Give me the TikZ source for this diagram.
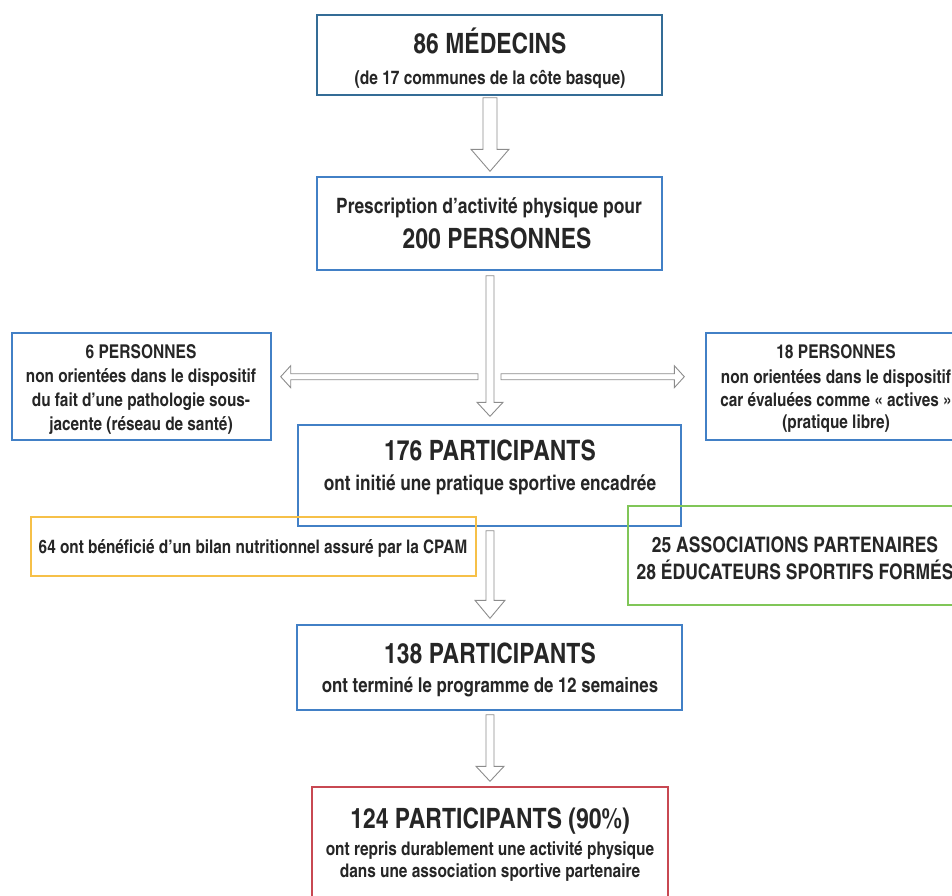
\documentclass[tikz,border=0pt]{standalone}
\usepackage{fontspec}
\setmainfont{texgyreheroscn}[Extension=.otf, UprightFont=*-regular, BoldFont=*-bold, ItalicFont=*-italic, BoldItalicFont=*-bolditalic]
\usetikzlibrary{calc}
\definecolor{boxblue}{RGB}{66,128,198}
\definecolor{boxteal}{RGB}{52,108,150}
\definecolor{boxyellow}{RGB}{246,192,72}
\definecolor{boxgreen}{RGB}{128,198,88}
\definecolor{boxred}{RGB}{200,72,82}
\definecolor{txtcol}{RGB}{38,38,38}
\definecolor{arrowgray}{RGB}{140,140,140}
\newcommand\fTitle{\fontsize{28}{30}\selectfont\bfseries}
\newcommand\fsz[1]{\fontsize{#1}{#1}\selectfont\bfseries}
\tikzset{
  box/.style={draw, line width=1.4pt, inner sep=0pt},
  ln/.style={anchor=base, inner sep=0pt, text=txtcol},
  hollow/.style={draw=arrowgray, line width=0.9pt, line join=miter, fill=white}
}
\begin{document}
\begin{tikzpicture}[x=1pt,y=-1pt]
\useasboundingbox (0,0) rectangle (952,895);
\clip (0,0) rectangle (952,895);
% boxes
\node[box, draw=boxteal, minimum width=345pt, minimum height=80pt] (b1) at (489.5,55) {};
\node[box, draw=boxblue, minimum width=345pt, minimum height=93pt] (b2) at (489.5,223.5) {};
\node[box, draw=boxblue, minimum width=259pt, minimum height=107pt] (bL) at (141.5,386.5) {};
\node[box, draw=boxblue, minimum width=260pt, minimum height=107pt] (bR) at (836,386.5) {};
\node[box, draw=boxblue, minimum width=383pt, minimum height=101pt] (b176) at (489.5,475.5) {};
\node[box, draw=boxyellow, minimum width=445pt, minimum height=59pt] (bY) at (253.5,546.5) {};
\node[box, draw=boxgreen, minimum width=334pt, minimum height=99pt] (bG) at (795,555.5) {};
\node[box, draw=boxblue, minimum width=385pt, minimum height=85pt] (b138) at (489.5,667.5) {};
\node[box, draw=boxred, minimum width=356pt, minimum height=130pt] (b124) at (490,852) {};
% texts
\node[ln, font=\fTitle] (t1a) at (490,53) {86 MÉDECINS};
\node[ln, font=\fsz{18.9}] (t1b) at (490,84) {(de 17 communes de la côte basque)};
\node[ln, font=\fsz{21.2}] (t2a) at (489,213) {Prescription d’activité physique pour};
\node[ln, font=\fTitle] (t2b) at (497,248) {200 PERSONNES};
\node[ln, font=\fsz{19}] (tLa) at (141,358) {6 PERSONNES};
\node[ln, font=\fsz{18.7}] (tLb) at (141,382) {non orientées dans le dispositif};
\node[ln, font=\fsz{18.7}] (tLc) at (141,406) {du fait d’une pathologie sous-};
\node[ln, font=\fsz{18.7}] (tLd) at (141,430) {jacente (réseau de santé)};
\node[ln, font=\fsz{19}] (tRa) at (836,358) {18 PERSONNES};
\node[ln, font=\fsz{18.7}] (tRb) at (836,383) {non orientées dans le dispositif};
\node[ln, font=\fsz{18.7}] (tRc) at (836,406) {car évaluées comme « actives »};
\node[ln, font=\fsz{18.7}] (tRd) at (836,428) {(pratique libre)};
\node[ln, font=\fTitle] (t176a) at (490,460) {176 PARTICIPANTS};
\node[ln, font=\fsz{21}] (t176b) at (490,490) {ont initié une pratique sportive encadrée};
\node[ln, font=\fsz{18.7}] (tY) at (253,553) {64 ont bénéficié d’un bilan nutritionnel assuré par la CPAM};
\node[ln, font=\fsz{21.4}] (tGa) at (795,552) {25 ASSOCIATIONS PARTENAIRES};
\node[ln, font=\fsz{21.4}] (tGb) at (795,579) {28 ÉDUCATEURS SPORTIFS FORMÉS};
\node[ln, font=\fTitle] (t138a) at (490,663) {138 PARTICIPANTS};
\node[ln, font=\fsz{20.5}] (t138b) at (490,692) {ont terminé le programme de 12 semaines};
\node[ln, font=\fTitle] (t124a) at (490,828) {124 PARTICIPANTS (90\%)};
\node[ln, font=\fsz{18.8}] (t124b) at (490,855) {ont repris durablement une activité physique};
\node[ln, font=\fsz{18.8}] (t124c) at (490,877) {dans une association sportive partenaire};
% vertical hollow arrows
\draw[hollow] let \p1=($(b1.south)+(0.5,2)$), \p2=($(b2.north)+(0.5,-5)$) in
  (\x1-7pt,\y1) -- (\x1+7pt,\y1) -- (\x1+7pt,\y2+22pt) -- (\x1+19pt,\y2+22pt) -- (\x1,\y2)
  -- (\x1-19pt,\y2+22pt) -- (\x1-7pt,\y2+22pt) -- cycle;
\draw[hollow] let \p1=($(b2.south)+(0.5,5)$), \p2=($(b176.north)+(0.5,-8)$) in
  (\x1-4pt,\y1) -- (\x1+4pt,\y1) -- (\x1+4pt,\y2+14pt) -- (\x1+13pt,\y2+14pt) -- (\x1,\y2)
  -- (\x1-13pt,\y2+14pt) -- (\x1-4pt,\y2+14pt) -- cycle;
\draw[hollow] let \p1=($(b176.south)+(0.5,4)$), \p2=($(b138.north)+(0.5,-6)$) in
  (\x1-4pt,\y1) -- (\x1+4pt,\y1) -- (\x1+4pt,\y2+18pt) -- (\x1+15pt,\y2+18pt) -- (\x1,\y2)
  -- (\x1-15pt,\y2+18pt) -- (\x1-4pt,\y2+18pt) -- cycle;
\draw[hollow] let \p1=($(b138.south)+(0.5,4)$), \p2=($(b124.north)+(0,-5)$) in
  (\x1-4pt,\y1) -- (\x1+4pt,\y1) -- (\x1+4pt,\y2+15pt) -- (\x1+14pt,\y2+15pt) -- (\x1,\y2)
  -- (\x1-14pt,\y2+15pt) -- (\x1-4pt,\y2+15pt) -- cycle;
% horizontal hollow arrows
\draw[hollow] let \p1=($(b2.south)+(-11.5,106)$), \p2=($(bL.east)+(9,-10.5)$) in
  (\x1,\y1+3pt) -- (\x2+10pt,\y1+3pt) -- (\x2+10pt,\y1+11pt) -- (\x2,\y1)
  -- (\x2+10pt,\y1-11pt) -- (\x2+10pt,\y1-3pt) -- (\x1,\y1-3pt) -- cycle;
\draw[hollow] let \p1=($(b2.south)+(11.5,106)$), \p2=($(bR.west)+(-21,-10.5)$) in
  (\x1,\y1+3pt) -- (\x2-10pt,\y1+3pt) -- (\x2-10pt,\y1+11pt) -- (\x2,\y1)
  -- (\x2-10pt,\y1-11pt) -- (\x2-10pt,\y1-3pt) -- (\x1,\y1-3pt) -- cycle;
\end{tikzpicture}
\end{document}
